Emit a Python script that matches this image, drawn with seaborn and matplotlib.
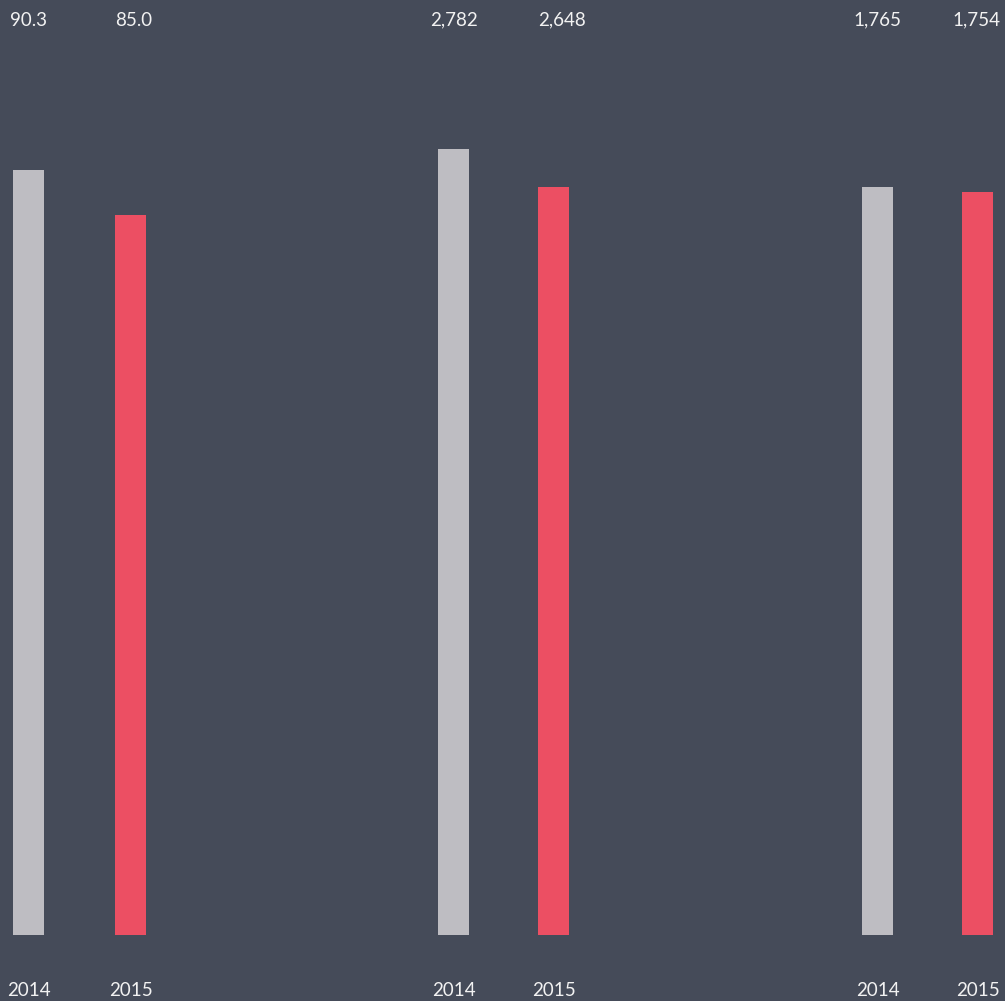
import pandas as pd
import seaborn as sns
import matplotlib.pyplot as plt

years = ["2014", "2015"]
group_values = [
    [90.3, 85.0],
    [2782, 2648],
    [1765, 1754],
]
value_labels = [
    ["90.3", "85.0"],
    ["2,782", "2,648"],
    ["1,765", "1,754"],
]

BG = "#454b59"
GRAY = "#bebdc2"
RED = "#ec4f63"
TXT = "#f2f2f2"

W, H = 1005, 1001
BOTTOM = 935                      # px from top where bars start
group_left = [0, 425, 849]        # axes left edge, px
group_unit = [102, 100, 100]      # px between the two bars of a group
first_center = 28.5
# headroom per group so bar heights match the reference
y_top = [110.4, 3309, 2206]

sns.set_theme(style="white")
plt.rcParams["font.family"] = ["Lato", "DejaVu Sans"]

fig = plt.figure(figsize=(W / 100, H / 100), dpi=100)
fig.patch.set_facecolor(BG)

for g, vals in enumerate(group_values):
    ax_w = 152
    unit = group_unit[g]
    bar_w = 31 / unit
    ax = fig.add_axes([group_left[g] / W, (H - BOTTOM) / H, ax_w / W, BOTTOM / H])
    ax.set_facecolor(BG)
    df = pd.DataFrame({"year": years, "value": vals})
    sns.barplot(data=df, x="year", y="value", hue="year",
                palette=[GRAY, RED], width=bar_w, legend=False,
                saturation=1, linewidth=0, ax=ax)
    ax.set_xlim(-first_center / unit, (ax_w - first_center) / unit)
    ax.set_ylim(0, y_top[g])
    ax.set_xlabel("")
    ax.set_ylabel("")
    ax.set_yticks([])
    sns.despine(ax=ax, left=True, bottom=True)
    ax.tick_params(axis="x", length=0, pad=34, colors=TXT, labelsize=13.5)
    trans = ax.get_xaxis_transform()
    ty = 1 - 20 / BOTTOM
    ax.text(0, ty, value_labels[g][0], transform=trans,
            ha="center", va="center", color=TXT, fontsize=13.5)
    if g == len(group_values) - 1:
        # keep the last label inside the figure
        fig.text(1000 / W, 1 - 20 / H, value_labels[g][1],
                 ha="right", va="center", color=TXT, fontsize=13.5)
    else:
        ax.text(1 - bar_w / 2, ty, value_labels[g][1], transform=trans,
                ha="left", va="center", color=TXT, fontsize=13.5)

fig.savefig("out.png", dpi=100, facecolor=BG)
